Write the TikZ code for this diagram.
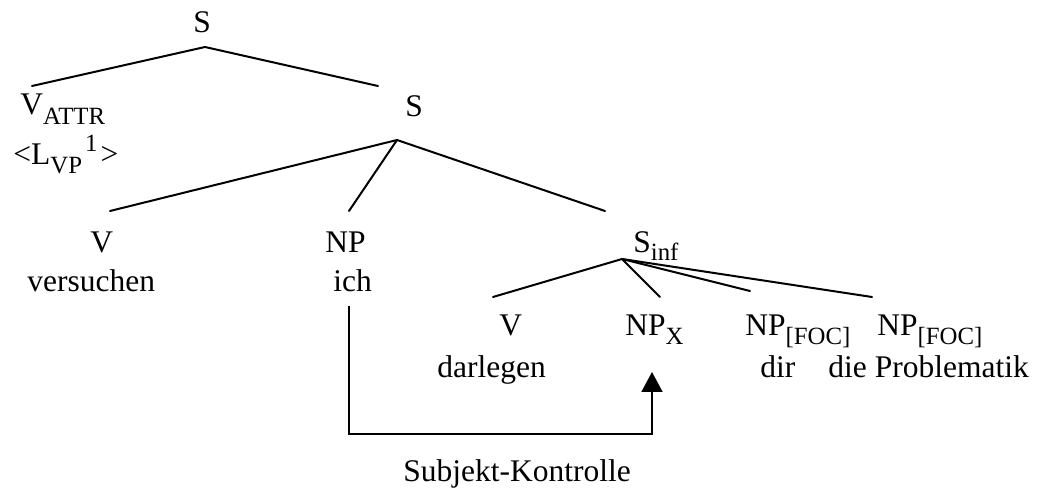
\documentclass[tikz,border=0pt]{standalone}
\usepackage{fontspec}
\setmainfont{Liberation Serif}
\usetikzlibrary{arrows.meta}
\newcommand\lsub[2][4.5pt]{\raisebox{-#1}{\fontsize{12.4}{14}\selectfont #2}}
\newcommand\lsup[2][5pt]{\raisebox{#1}{\fontsize{12.4}{14}\selectfont #2}}
\begin{document}
\begin{tikzpicture}[x=0.5pt,y=-0.5pt,
  lbl/.style={inner sep=0pt, anchor=base west, font=\fontsize{15.75}{18}\selectfont},
  edge/.style={line width=1pt, line cap=round}]
\useasboundingbox (0,0) rectangle (1039,496);
% labels
\node[lbl] (S1) at (193,33) {S};
\node[lbl] (Vattr) at (20,115) {V\lsub[5pt]{ATTR}};
\node[lbl] (Lvp) at (13,165) {<L\lsub{VP}\kern1.5pt\lsup[6.5pt]{1}\kern1.5pt>};
\node[lbl] (S2) at (405,117) {S};
\node[lbl] (V1) at (90,253) {V};
\node[lbl] (vers) at (27,292) {versuchen};
\node[lbl] (NP1) at (325,253) {NP};
\node[lbl] (ich) at (333,292) {ich};
\node[lbl] (Sinf) at (633,253) {S\lsub[4pt]{inf}};
\node[lbl] (V2) at (499,336) {V};
\node[lbl] (darl) at (437,378) {darlegen};
\node[lbl] (NPx) at (625,336) {NP\lsub{X}};
\node[lbl] (NPf1) at (745,336) {NP\lsub{[FOC]}};
\node[lbl] (NPf2) at (877,336) {NP\lsub{[FOC]}};
\node[lbl] (dir) at (760,378) {dir};
\node[lbl] (prob) at (828,378) {die Problematik};
\node[lbl] (subj) at (403,482) {Subjekt-Kontrolle};
% branching points
\coordinate (a1) at (205,47);
\coordinate (a1l) at (32,86);
\coordinate (a1r) at (378,86);
\coordinate (a2) at (397,140);
\coordinate (a2v) at (110,211);
\coordinate (a2np) at (349,211);
\coordinate (a2s) at (605,211);
\coordinate (a3) at (622,259);
\coordinate (a3v) at (493,297);
\coordinate (a3x) at (660,297);
\coordinate (a3f1) at (750,291);
\coordinate (a3f2) at (872,297);
% control connector
\coordinate (c0) at (349,306);
\coordinate (c1) at (349,434);
\coordinate (c2) at (652,434);
\coordinate (c3) at (652,372);
% edges
\draw[edge] (a1l) -- (a1) -- (a1r);
\draw[edge] (a2) -- (a2v);
\draw[edge] (a2) -- (a2np);
\draw[edge] (a2) -- (a2s);
\draw[edge] (a3) -- (a3v);
\draw[edge] (a3) -- (a3x);
\draw[edge] (a3) -- (a3f1);
\draw[edge] (a3) -- (a3f2);
\draw[line width=1pt, -{Triangle[length=10pt,width=10.5pt]}] (c0) -- (c1) -- (c2) -- (c3);
\end{tikzpicture}
\end{document}
